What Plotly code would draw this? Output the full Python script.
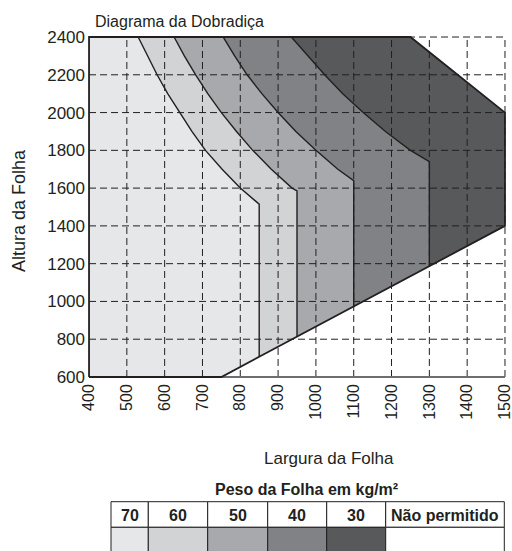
import plotly.graph_objects as go

# Peso da folha (kg/m²) per zone and the zone colours
peso_labels = ["70", "60", "50", "40", "30"]
peso_colors = ["#e6e7e8", "#d1d3d4", "#a7a9ac", "#808285", "#58595b"]
nao_permitido = "Não permitido"

# Limit curves of each weight class: largura (mm) vs altura (mm), top to bottom
curve70_w = [530, 555, 580, 608, 640, 672, 708, 752, 800, 850]
curve70_h = [2400, 2300, 2200, 2100, 2000, 1900, 1800, 1700, 1600, 1515]
curve60_w = [625, 652, 682, 714, 750, 790, 833, 882, 937, 950]
curve60_h = [2400, 2300, 2200, 2100, 2000, 1900, 1800, 1700, 1600, 1585]
curve50_w = [755, 785, 818, 857, 900, 947, 1000, 1058, 1100]
curve50_h = [2400, 2300, 2200, 2100, 2000, 1900, 1800, 1700, 1640]
curve40_w = [935, 978, 1023, 1071, 1125, 1184, 1250, 1300]
curve40_h = [2400, 2300, 2200, 2100, 2000, 1900, 1800, 1740]

# Lower limit of the permitted area
lower_w = [400, 750, 850, 950, 1100, 1300, 1500]
lower_h = [600, 600, 707, 813, 973, 1187, 1400]
# Upper-right limit of the permitted area
upper_w = [1250, 1500, 1500]
upper_h = [2400, 2000, 1400]

x_ticks = [400, 500, 600, 700, 800, 900, 1000, 1100, 1200, 1300, 1400, 1500]
y_ticks = [600, 800, 1000, 1200, 1400, 1600, 1800, 2000, 2200, 2400]

W, H = 512, 551
ML, MR, MT, MB = 86, 4, 34, 171
PW, PH = W - ML - MR, H - MT - MB
X_RANGE = [392, 1508]
Y_RANGE = [584, 2416]
TXT = "#231f20"
FONT = "Liberation Sans, Arial, sans-serif"


def px_x(p):
    return (p - ML) / PW


def px_y(p):
    return (H - MB - p) / PH


lower_at = dict(zip(lower_w, lower_h))


def boundary(ws, hs):
    # curve from the top, then straight down to the lower limit
    return list(ws) + [ws[-1]], list(hs) + [lower_at[ws[-1]]]


paths = [
    ([400, 400], [2400, 600]),
    boundary(curve70_w, curve70_h),
    boundary(curve60_w, curve60_h),
    boundary(curve50_w, curve50_h),
    boundary(curve40_w, curve40_h),
    (upper_w, upper_h),
]

fig = go.Figure()

# zone fills
for i, color in enumerate(peso_colors):
    lw, lh = paths[i]
    rw, rh = paths[i + 1]
    mid = [(w, h) for w, h in zip(lower_w, lower_h) if lw[-1] < w < rw[-1]]
    xs = lw + [m[0] for m in mid] + rw[::-1]
    ys = lh + [m[1] for m in mid] + rh[::-1]
    fig.add_trace(go.Scatter(x=xs, y=ys, fill="toself", fillcolor=color,
                             mode="lines", line=dict(width=0),
                             hoverinfo="skip", showlegend=False))

# dashed grid drawn over the zones
gx, gy = [], []
for x in x_ticks[1:]:
    gx += [x, x, None]
    gy += [600, 2400, None]
for y in y_ticks[1:]:
    gx += [400, 1500, None]
    gy += [y, y, None]
fig.add_trace(go.Scatter(x=gx, y=gy, mode="lines",
                         line=dict(color=TXT, width=1, dash="7px,4px"),
                         hoverinfo="skip", showlegend=False))

# x axis base line
fig.add_trace(go.Scatter(x=[400, 1500], y=[600, 600], mode="lines",
                         line=dict(color="#6d6e71", width=2),
                         hoverinfo="skip", showlegend=False))

# weight class boundaries
for bw, bh in paths[1:5]:
    fig.add_trace(go.Scatter(x=bw, y=bh, mode="lines",
                             line=dict(color=TXT, width=1.4),
                             hoverinfo="skip", showlegend=False))

# outline of the permitted area
ow = [400] + lower_w[1:] + upper_w[1::-1] + [400, 400]
oh = [600] + lower_h[1:] + upper_h[1::-1] + [2400, 600]
fig.add_trace(go.Scatter(x=ow, y=oh, mode="lines",
                         line=dict(color=TXT, width=1.8),
                         hoverinfo="skip", showlegend=False))

fig.update_xaxes(range=X_RANGE, tickvals=x_ticks, ticktext=[str(v) for v in x_ticks],
                 tickangle=-90, showgrid=False, zeroline=False, showline=False,
                 ticks="", ticklabeloverflow="allow", automargin=False,
                 tickfont=dict(family=FONT, size=16, color=TXT))
fig.update_yaxes(range=Y_RANGE, tickvals=y_ticks, ticktext=[str(v) for v in y_ticks],
                 showgrid=False, zeroline=False, showline=False, ticks="",
                 ticklabeloverflow="allow", automargin=False,
                 tickfont=dict(family=FONT, size=17, color=TXT))

ann = [
    dict(text="Diagrama da Dobradiça", x=px_x(93), y=px_y(21.5), xanchor="left",
         yanchor="middle", font=dict(size=16)),
    dict(text="Largura da Folha", x=px_x(328.5), y=px_y(458), xanchor="center",
         yanchor="middle", font=dict(size=17)),
    dict(text="Altura da Folha", x=px_x(19), y=px_y(211), xanchor="center",
         yanchor="middle", textangle=-90, font=dict(size=18)),
    dict(text="<b>Peso da Folha em kg/m²</b>", x=px_x(306), y=px_y(489.5),
         xanchor="center", yanchor="middle", font=dict(size=16)),
]

# weight legend table
col_edges = [111, 148.3, 207.7, 267.7, 326.7, 385.7, 504.3]
row_top, row_mid, row_bot = 501.7, 527.3, 553
shapes = []
labels = peso_labels + [nao_permitido]
fills = peso_colors + ["#ffffff"]
for i, (lab, fc) in enumerate(zip(labels, fills)):
    x0, x1 = col_edges[i], col_edges[i + 1]
    shapes.append(dict(type="rect", xref="paper", yref="paper",
                       x0=px_x(x0), x1=px_x(x1), y0=px_y(row_mid), y1=px_y(row_top),
                       fillcolor="#ffffff", line=dict(color=TXT, width=1)))
    shapes.append(dict(type="rect", xref="paper", yref="paper",
                       x0=px_x(x0), x1=px_x(x1), y0=px_y(row_bot), y1=px_y(row_mid),
                       fillcolor=fc, line=dict(color=TXT, width=1)))
    ann.append(dict(text=f"<b>{lab}</b>", x=px_x((x0 + x1) / 2),
                    y=px_y((row_top + row_mid) / 2 + 0.5), xanchor="center",
                    yanchor="middle", font=dict(size=16)))

for a in ann:
    a.update(xref="paper", yref="paper", showarrow=False)
    a["font"].update(family=FONT, color=TXT)

fig.update_layout(width=W, height=H, margin=dict(l=ML, r=MR, t=MT, b=MB,
                                                 autoexpand=False),
                  plot_bgcolor="#ffffff", paper_bgcolor="#ffffff",
                  annotations=ann, shapes=shapes, showlegend=False)

fig.write_html("out.html")
